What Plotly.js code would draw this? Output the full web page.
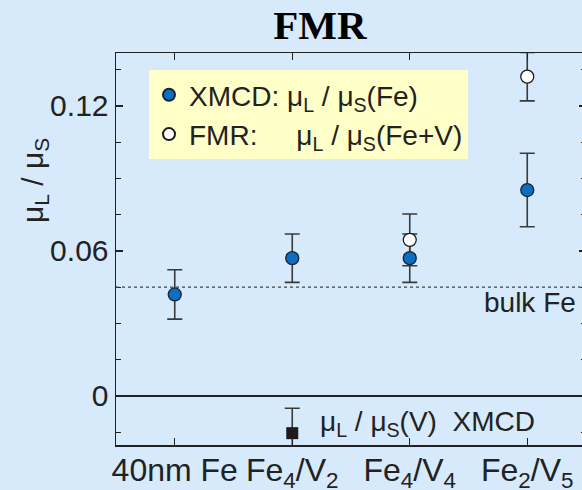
<!DOCTYPE html>
<html>
<head>
<meta charset="utf-8">
<script src="https://cdn.plot.ly/plotly-3.0.1.min.js"></script>
<style>
html,body{margin:0;padding:0;overflow:hidden;background:#D6EAFC;}
#chart{width:590px;height:490px;}
</style>
</head>
<body>
<div id="chart"></div>
<script>
// ---- data ----
const categories = ["40nm Fe", "Fe<sub>4</sub>/V<sub>2</sub>", "Fe<sub>4</sub>/V<sub>4</sub>", "Fe<sub>2</sub>/V<sub>5</sub>"];
const xmcdFe = [0.042, 0.057, 0.057, 0.0852];
const xmcdFeErr = [0.0102, 0.010, 0.010, 0.0152];
const fmrCats = ["Fe<sub>4</sub>/V<sub>4</sub>", "Fe<sub>2</sub>/V<sub>5</sub>"];
const fmr = [0.0646, 0.1321];
const fmrErr = [0.0107, 0.010];
const vCats = ["Fe<sub>4</sub>/V<sub>2</sub>"];
const xmcdV = [-0.0154];
const xmcdVErr = [0.0103];
const bulkFe = 0.045;

const ink = '#222222';
const blue = '#0A6FC2';
const bg = '#D6EAFC';
const font = 'Liberation Sans, Arial, sans-serif';

function errTrace(x, y, err) {
  return {
    type: 'scatter', mode: 'markers', x: x, y: y,
    marker: {size: 1, color: 'rgba(0,0,0,0)'},
    error_y: {type: 'data', array: err, visible: true, color: '#3a3a3a', thickness: 1.6, width: 7.5},
    showlegend: false, hoverinfo: 'skip', cliponaxis: false, xaxis: 'x', yaxis: 'y'
  };
}

const traces = [
  errTrace(categories, xmcdFe, xmcdFeErr),
  errTrace(fmrCats, fmr, fmrErr),
  errTrace(vCats, xmcdV, xmcdVErr),
  {
    type: 'scatter', mode: 'markers', x: vCats, y: xmcdV,
    marker: {symbol: 'square', size: 12, color: '#1c1c1c', line: {color: '#1c1c1c', width: 0}},
    showlegend: false, cliponaxis: false
  },
  {
    type: 'scatter', mode: 'markers', x: categories, y: xmcdFe,
    name: 'XMCD:&nbsp;μ<sub>L</sub> / μ<sub>S</sub>(Fe)', legendrank: 1,
    marker: {symbol: 'circle', size: 13, color: blue, line: {color: '#1a2233', width: 1.3}},
    cliponaxis: false
  },
  {
    type: 'scatter', mode: 'markers', x: fmrCats, y: fmr,
    name: 'FMR:&nbsp;&nbsp;&nbsp;&nbsp;&nbsp;μ<sub>L</sub> / μ<sub>S</sub>(Fe+V)', legendrank: 2,
    marker: {symbol: 'circle', size: 13, color: '#ffffff', line: {color: '#1a1a1a', width: 1.3}},
    cliponaxis: false
  }
];

const layout = {
  width: 590, height: 490,
  margin: {l: 116, r: 4, t: 53, b: 45},
  paper_bgcolor: bg, plot_bgcolor: bg,
  showlegend: true,
  hovermode: false,
  title: {
    text: '<b>FMR</b>',
    font: {family: 'Liberation Serif, Times New Roman, serif', size: 41, color: '#000'},
    x: 0.5424, xanchor: 'center', y: 0.949, yanchor: 'middle'
  },
  font: {family: font, color: ink},
  xaxis: {
    type: 'category', categoryorder: 'array', categoryarray: categories,
    range: [-0.5, 3.5],
    showline: true, linecolor: ink, linewidth: 1.5, mirror: 'ticks',
    ticks: 'inside', ticklen: 7, tickwidth: 1.3, tickcolor: ink,
    showgrid: false, zeroline: false,
    ticklabelstandoff: -4,
    tickfont: {size: 32, color: ink, family: font}
  },
  xaxis2: {
    overlaying: 'x', anchor: 'y', side: 'bottom',
    type: 'linear', range: [-0.5, 3.5], tick0: -0.5, dtick: 0.5,
    ticks: 'inside', ticklen: 3, tickwidth: 1, tickcolor: ink,
    showticklabels: false, showline: false, showgrid: false, zeroline: false, mirror: 'ticks'
  },
  yaxis: {
    range: [-0.0203, 0.1419],
    tick0: 0, dtick: 0.06,
    ticks: 'inside', ticklen: 7, tickwidth: 1.3, tickcolor: ink,
    minor: {tick0: 0, dtick: 0.015, ticks: 'inside', ticklen: 5, tickwidth: 1, tickcolor: ink, showgrid: false},
    showline: true, linecolor: ink, linewidth: 1.5, mirror: 'ticks',
    showgrid: false,
    zeroline: true, zerolinecolor: ink, zerolinewidth: 1.6,
    tickfont: {size: 30, color: ink, family: font}
  },
  legend: {
    x: 0.0702, y: 0.9566, xanchor: 'left', yanchor: 'top',
    bgcolor: '#FFFFC8', borderwidth: 0,
    font: {size: 28, color: ink, family: font},
    itemsizing: 'constant', traceorder: 'normal'
  },
  shapes: [
    {type: 'line', xref: 'paper', x0: 0, x1: 1, yref: 'y', y0: bulkFe, y1: bulkFe,
     line: {color: '#444', width: 1.2, dash: 'dot'}}
  ],
  annotations: [
    {text: 'μ<sub>L</sub> / μ<sub>S</sub>', xref: 'paper', yref: 'paper', x: -0.1745, y: 0.676,
     textangle: -90, showarrow: false, font: {size: 30, color: ink, family: font},
     xanchor: 'center', yanchor: 'middle'},
    {text: 'bulk Fe', xref: 'paper', yref: 'y', x: 0.983, y: bulkFe, yshift: 2, xanchor: 'right', yanchor: 'top',
     showarrow: false, font: {size: 28, color: ink, family: font}},
    {text: 'μ<sub>L</sub> / μ<sub>S</sub>(V)  XMCD', xref: 'paper', yref: 'y', x: 0.43, y: -0.0112,
     xanchor: 'left', yanchor: 'middle', showarrow: false, font: {size: 28, color: ink, family: font}}
  ]
};

Plotly.newPlot('chart', traces, layout, {displayModeBar: false, staticPlot: true});
</script>
</body>
</html>
